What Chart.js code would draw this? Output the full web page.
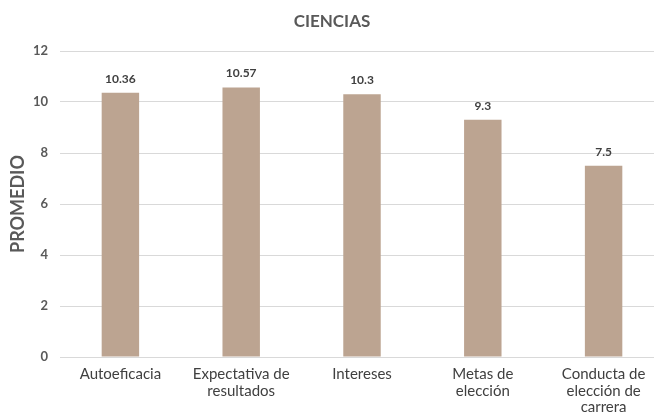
<!DOCTYPE html>
<html>
<head>
<meta charset="utf-8">
<script src="https://cdn.jsdelivr.net/npm/chart.js@4/dist/chart.umd.min.js"></script>
<style>
  html, body { margin: 0; padding: 0; background: #fff; overflow: hidden; }
  #wrap { width: 664px; height: 417px; }
</style>
</head>
<body>
<div id="wrap"><canvas id="chart" width="664" height="417"></canvas></div>
<script>
const categories = [
    'Autoeficacia',
    ['Expectativa de', 'resultados'],
    'Intereses',
    ['Metas de', 'elección'],
    ['Conducta de', 'elección de', 'carrera'],
];
const promedio = [10.36, 10.57, 10.3, 9.3, 7.5];
const yTicks = [0, 2, 4, 6, 8, 10, 12];

const colors = {
    bar: '#bca491',
    grid: '#d9d9d9',
    tick: '#595959',
    label: '#404040',
};

const valueLabels = {
    id: 'valueLabels',
    afterDatasetsDraw(chart) {
        const ctx = chart.ctx;
        const meta = chart.getDatasetMeta(0);
        ctx.save();
        ctx.font = 'bold 12px Lato';
        ctx.fillStyle = colors.label;
        ctx.textAlign = 'center';
        ctx.textBaseline = 'bottom';
        meta.data.forEach((bar, i) => {
            ctx.fillText(String(promedio[i]), bar.x, bar.y - 8);
        });
        ctx.restore();
    }
};

new Chart(document.getElementById('chart'), {
    type: 'bar',
    data: {
        labels: categories,
        datasets: [{
            data: promedio,
            backgroundColor: colors.bar,
            borderWidth: 0,
            barPercentage: 0.62,
            categoryPercentage: 0.5,
        }]
    },
    options: {
        responsive: false,
        animation: false,
        layout: { padding: 0 },
        plugins: {
            legend: { display: false },
            tooltip: { enabled: false },
            title: {
                display: true,
                text: 'CIENCIAS',
                color: colors.tick,
                font: { family: 'Lato', size: 17, weight: 'bold' },
                padding: { top: 11, bottom: 19.6 },
            }
        },
        scales: {
            x: {
                grid: { display: false, drawTicks: false },
                border: { display: true, color: colors.grid, width: 1 },
                ticks: {
                    color: colors.label,
                    font: { family: 'Lato', size: 15, lineHeight: 1.1 },
                    padding: 9,
                    maxRotation: 0,
                    autoSkip: false,
                },
                afterFit(scale) { scale.height = 60; }
            },
            y: {
                min: 0,
                max: 12,
                afterBuildTicks(scale) {
                    scale.ticks = yTicks.map(v => ({ value: v }));
                },
                grid: { color: colors.grid, drawTicks: false, lineWidth: 1 },
                border: { display: false },
                ticks: {
                    color: colors.tick,
                    font: { family: 'Lato', size: 13, weight: 'bold' },
                    padding: 12,
                },
                title: {
                    display: true,
                    text: 'PROMEDIO',
                    color: colors.tick,
                    font: { family: 'Lato', size: 18, weight: 'bold' },
                    padding: { top: 7, bottom: 4 },
                },
                afterFit(scale) { scale.width = 60; }
            }
        }
    },
    plugins: [valueLabels]
});
</script>
</body>
</html>
